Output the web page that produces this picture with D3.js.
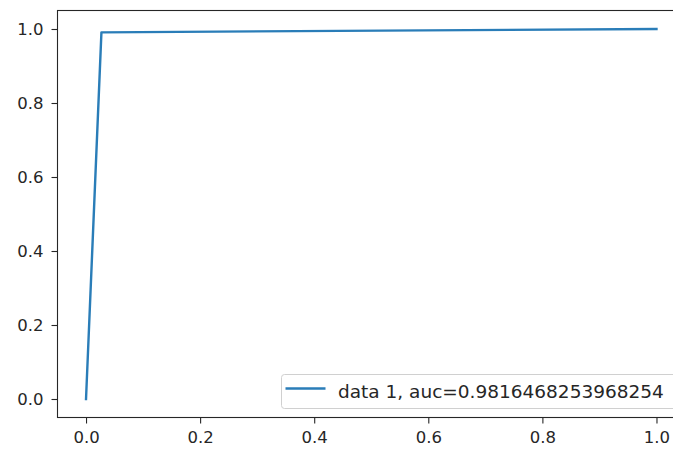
<!DOCTYPE html>
<html>
<head>
<meta charset="utf-8">
<script src="https://cdn.jsdelivr.net/npm/d3@7"></script>
<style>
  html, body { margin: 0; padding: 0; background: #fff; }
  svg { display: block; }
  text { font-family: "DejaVu Sans", sans-serif; fill: #262626; }
</style>
</head>
<body>
<svg id="chart" width="673" height="450"></svg>
<script>
// ROC curve points
const fpr = [0, 0.027, 1];
const tpr = [0, 0.991, 1];
const seriesLabel = "data 1, auc=0.9816468253968254";
const xTicks = [0, 0.2, 0.4, 0.6, 0.8, 1.0];
const yTicks = [0, 0.2, 0.4, 0.6, 0.8, 1.0];

const svg = d3.select("#chart");
const plot = { left: 57.5, top: 10.5, right: 685, bottom: 417.5 };

const x = d3.scaleLinear().domain([-0.05, 1.05]).range([plot.left, plot.right]);
const y = d3.scaleLinear().domain([-0.05, 1.05]).range([plot.bottom, plot.top]);

const axisColor = "#262626";

// axes
const xAxis = svg.append("g")
  .attr("transform", `translate(0,${plot.bottom})`)
  .call(d3.axisBottom(x).tickValues(xTicks).tickFormat(d3.format(".1f")).tickSize(6).tickPadding(8));
const yAxis = svg.append("g")
  .attr("transform", `translate(${plot.left},0)`)
  .call(d3.axisLeft(y).tickValues(yTicks).tickFormat(d3.format(".1f")).tickSize(6).tickPadding(8));

[xAxis, yAxis].forEach(g => {
  g.select(".domain").remove();
  g.selectAll(".tick line").attr("stroke", axisColor).attr("stroke-width", 1.1);
  g.selectAll(".tick text").style("font-size", "16.5px").style("font-family", "DejaVu Sans").attr("fill", axisColor);
});

// ROC line
const line = d3.line().x((d, i) => x(fpr[i])).y(d => y(d));
svg.append("path")
  .datum(tpr)
  .attr("d", line)
  .attr("fill", "none")
  .attr("stroke", "#2a7db8")
  .attr("stroke-width", 2.4)
  .attr("stroke-linejoin", "round")
  .attr("stroke-linecap", "square");

// frame
svg.append("rect")
  .attr("x", plot.left).attr("y", plot.top)
  .attr("width", plot.right - plot.left).attr("height", plot.bottom - plot.top)
  .attr("fill", "none").attr("stroke", axisColor).attr("stroke-width", 1.1);

// legend
const lg = svg.append("g").attr("transform", "translate(281.5,374.5)");
lg.append("rect")
  .attr("width", 400).attr("height", 34)
  .attr("rx", 3).attr("ry", 3)
  .attr("fill", "#fff").attr("fill-opacity", 0.8)
  .attr("stroke", "#d0d0d0").attr("stroke-width", 1);
lg.append("line")
  .attr("x1", 4).attr("x2", 44).attr("y1", 14).attr("y2", 14)
  .attr("stroke", "#2a7db8").attr("stroke-width", 2.4);
lg.append("text")
  .attr("x", 56.5).attr("y", 23.5)
  .style("font-size", "18.5px")
  .text(seriesLabel);
</script>
</body>
</html>
